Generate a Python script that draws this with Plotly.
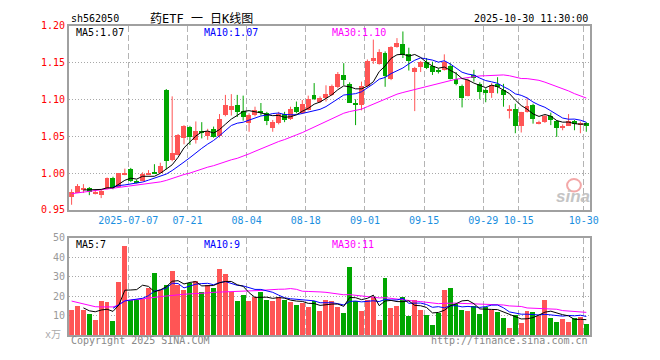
import plotly.graph_objects as go

# ---------------- data ----------------
opens = [0.968, 0.974, 0.977, 0.980, 0.973, 0.971, 0.979, 0.994, 0.982, 0.999,
         1.006, 0.990, 0.990, 0.999, 1.001, 1.001, 1.113, 1.018, 1.025, 1.048,
         1.063, 1.045, 1.057, 1.051, 1.060, 1.051, 1.079, 1.086, 1.093, 1.085,
         1.069, 1.079, 1.084, 1.082, 1.061, 1.069, 1.080, 1.074, 1.090, 1.082,
         1.086, 1.106, 1.097, 1.102, 1.107, 1.117, 1.133, 1.121, 1.095, 1.093,
         1.119, 1.153, 1.149, 1.164, 1.128, 1.172, 1.175, 1.162, 1.138, 1.144,
         1.151, 1.146, 1.141, 1.141, 1.146, 1.128, 1.119, 1.105, 1.133, 1.121,
         1.113, 1.109, 1.121, 1.113, 1.086, 1.087, 1.064, 1.083, 1.093, 1.067,
         1.070, 1.078, 1.071, 1.062, 1.065, 1.071, 1.067, 1.068]
highs = [0.978, 0.985, 0.985, 0.981, 0.977, 0.977, 0.994, 0.995, 1.000, 1.006,
         1.007, 0.991, 1.001, 1.004, 1.012, 1.014, 1.114, 1.104, 1.053, 1.065,
         1.064, 1.070, 1.069, 1.060, 1.063, 1.080, 1.106, 1.107, 1.106, 1.105,
         1.081, 1.090, 1.095, 1.083, 1.072, 1.083, 1.083, 1.090, 1.097, 1.099,
         1.105, 1.122, 1.104, 1.119, 1.120, 1.137, 1.149, 1.123, 1.100, 1.124,
         1.154, 1.181, 1.168, 1.165, 1.172, 1.183, 1.192, 1.170, 1.144, 1.152,
         1.156, 1.151, 1.142, 1.161, 1.149, 1.137, 1.120, 1.128, 1.140, 1.123,
         1.115, 1.122, 1.130, 1.121, 1.092, 1.094, 1.083, 1.102, 1.094, 1.071,
         1.079, 1.082, 1.072, 1.066, 1.080, 1.072, 1.070, 1.069]
lows = [0.957, 0.973, 0.973, 0.970, 0.971, 0.966, 0.978, 0.978, 0.981, 0.997,
        0.988, 0.986, 0.989, 0.998, 0.999, 1.000, 1.005, 1.016, 1.024, 1.039,
        1.038, 1.040, 1.047, 1.045, 1.048, 1.048, 1.077, 1.078, 1.076, 1.071,
        1.056, 1.077, 1.078, 1.065, 1.056, 1.066, 1.069, 1.072, 1.081, 1.080,
        1.085, 1.099, 1.095, 1.097, 1.105, 1.115, 1.119, 1.095, 1.065, 1.085,
        1.117, 1.148, 1.147, 1.117, 1.126, 1.170, 1.156, 1.139, 1.084, 1.137,
        1.141, 1.133, 1.135, 1.139, 1.127, 1.119, 1.089, 1.104, 1.124, 1.100,
        1.096, 1.102, 1.108, 1.090, 1.074, 1.054, 1.055, 1.082, 1.067, 1.066,
        1.068, 1.065, 1.049, 1.058, 1.064, 1.058, 1.054, 1.056]
closes = [0.975, 0.983, 0.980, 0.975, 0.975, 0.976, 0.994, 0.980, 1.000, 1.001,
          0.990, 0.988, 0.999, 1.001, 1.000, 1.010, 1.017, 1.028, 1.052, 1.064,
          1.050, 1.057, 1.056, 1.058, 1.050, 1.074, 1.093, 1.091, 1.083, 1.077,
          1.079, 1.086, 1.083, 1.071, 1.070, 1.081, 1.073, 1.087, 1.084, 1.094,
          1.101, 1.101, 1.102, 1.108, 1.119, 1.135, 1.127, 1.096, 1.094, 1.119,
          1.153, 1.157, 1.165, 1.132, 1.171, 1.177, 1.161, 1.152, 1.143, 1.151,
          1.143, 1.137, 1.137, 1.151, 1.128, 1.122, 1.103, 1.127, 1.130, 1.110,
          1.109, 1.120, 1.117, 1.106, 1.087, 1.065, 1.083, 1.092, 1.074, 1.070,
          1.078, 1.072, 1.062, 1.063, 1.071, 1.067, 1.068, 1.064]
volumes = [13.0, 15.0, 13.0, 11.0, 8.0, 17.5, 17.0, 7.5, 27.5, 46.0,
           18.0, 18.0, 18.8, 24.5, 32.0, 23.0, 26.0, 33.0, 26.0, 23.5,
           27.0, 28.0, 22.0, 26.0, 24.5, 34.0, 31.5, 22.0, 17.5, 20.5,
           17.5, 19.5, 22.0, 18.0, 17.5, 19.5, 18.0, 17.0, 15.5, 16.7,
           14.5, 17.5, 12.2, 18.0, 17.5, 14.7, 11.5, 35.0, 17.5, 12.5,
           18.0, 19.7, 8.0, 29.5, 14.0, 15.0, 19.5, 10.0, 18.0, 13.0,
           10.5, 5.5, 11.3, 23.5, 24.5, 15.8, 13.0, 12.5, 15.0, 11.0,
           14.5, 13.0, 12.0, 9.0, 3.5, 10.5, 6.5, 12.5, 12.0, 10.0,
           18.0, 9.0, 7.0, 8.5, 7.0, 8.7, 9.5, 6.0]

# moving-average values visible before enough bars exist in the window
ma5_head = [None, None, 0.977, 0.977]
ma10_head = [None] * 7 + [0.981, 0.983]
ma30_head = [0.972, 0.973, 0.974, 0.975, 0.976, 0.977, 0.978, 0.979, 0.980, 0.981,
             0.982, 0.983, 0.984, 0.985, 0.986, 0.988, 0.990, 0.993, 0.996, 0.998,
             1.000, 1.003, 1.005, 1.008, 1.010, 1.013, 1.015, 1.018, 1.020]
vma5_head = [None, None, 14.0, 12.5]
vma10_head = [None] * 7 + [13.8, 15.5]
vma30_head = [17.5, 16.8, 16.0, 15.2, 14.6, 14.5, 14.5, 14.5, 15.5, 17.8,
              18.0, 18.2, 18.6, 19.0, 19.5, 19.8, 20.1, 20.5, 20.8, 21.0,
              21.2, 21.3, 21.5, 21.7, 22.0, 22.1, 22.3, 22.4, 22.5]

tick_index = [10, 20, 30, 40, 50, 60, 70, 76, 87]
tick_labels = ["2025-07-07", "07-21", "08-04", "08-18", "09-01",
               "09-15", "09-29", "10-15", "10-30"]
price_ticks = [0.95, 1.00, 1.05, 1.10, 1.15, 1.20]
vol_ticks = [10, 20, 30, 40, 50]
price_ma_text = ["MA5:1.07", "MA10:1.07", "MA30:1.10"]
vol_ma_text = ["MA5:7", "MA10:9", "MA30:11"]

# ---------------- helpers ----------------
def moving(vals, n, head):
    out = list(head)
    for i in range(len(head), len(vals)):
        out.append(sum(vals[i - n + 1:i + 1]) / n)
    return out

N = len(closes)
xs = list(range(N))
RED = "#ff5555"
GREEN = "#00a600"
MONO = "DejaVu Sans Mono, Liberation Mono, monospace"

# the page body keeps its default 8px margin: lay the figure out in screen
# pixels of the 660x360 window, shifted by that margin
M = 8
FW, FH = 660 - 2 * M, 360 - 2 * M

def px(X):
    return (X - M) / FW

def py(Y):
    return 1 - (Y - M) / FH

up = [c >= o for o, c in zip(opens, closes)]
colors = [RED if u else GREEN for u in up]

fig = go.Figure()

# wicks
for flag, col in ((True, RED), (False, GREEN)):
    wx, wy = [], []
    for i in xs:
        if up[i] == flag:
            wx += [i, i, None]
            wy += [lows[i], highs[i], None]
    fig.add_trace(go.Scatter(x=wx, y=wy, mode="lines", line=dict(color=col, width=1),
                             hoverinfo="skip", xaxis="x", yaxis="y"))

# bodies
body_base = [min(o, c) for o, c in zip(opens, closes)]
body_h = [max(abs(c - o), 0.0012) for o, c in zip(opens, closes)]
fig.add_trace(go.Bar(x=xs, y=body_h, base=body_base, width=5 / 6,
                     marker=dict(color=colors, line=dict(width=0)),
                     xaxis="x", yaxis="y"))

ma5 = moving(closes, 5, ma5_head)
ma10 = moving(closes, 10, ma10_head)
ma30 = moving(closes, 30, ma30_head)
for ser, col in ((ma30, "#ff00ff"), (ma10, "#0000ff"), (ma5, "#000000")):
    fig.add_trace(go.Scatter(x=xs, y=ser, mode="lines", line=dict(color=col, width=1),
                             xaxis="x", yaxis="y", hoverinfo="skip"))

# volume
fig.add_trace(go.Bar(x=xs, y=volumes, width=5 / 6,
                     marker=dict(color=colors, line=dict(width=0)),
                     xaxis="x2", yaxis="y2"))
vma5 = moving(volumes, 5, vma5_head)
vma10 = moving(volumes, 10, vma10_head)
vma30 = moving(volumes, 30, vma30_head)
for ser, col in ((vma30, "#ff00ff"), (vma10, "#0000ff"), (vma5, "#000000")):
    fig.add_trace(go.Scatter(x=xs, y=ser, mode="lines", line=dict(color=col, width=1),
                             xaxis="x2", yaxis="y2", hoverinfo="skip"))

off = 2.5 / 6
xrange = [-off, N - off]
grid_x = [i - off for i in tick_index]
x_dom = [px(70), px(598)]

common_x = dict(domain=x_dom, range=xrange, showgrid=True, gridcolor="#b4b4b4",
                griddash="6px,3px", gridwidth=1, showline=True, mirror=True,
                linecolor="#a0a0a0", linewidth=2, zeroline=False, ticks="",
                tickvals=grid_x, fixedrange=True)

fig.update_layout(
    width=FW, height=FH, margin=dict(l=0, r=0, t=0, b=0), autosize=False,
    paper_bgcolor="white", plot_bgcolor="white", showlegend=False, bargap=0,
    xaxis=dict(**common_x, anchor="y", ticktext=tick_labels,
               tickfont=dict(family=MONO, size=10, color="#1a8fe0")),
    xaxis2=dict(**common_x, anchor="y2", showticklabels=False),
    yaxis=dict(domain=[py(211), py(20)], range=[0.95, 1.20], tickvals=price_ticks,
               ticktext=["%.2f" % v for v in price_ticks],
               tickfont=dict(family=MONO, size=10, color="#ff0000"),
               showgrid=True, gridcolor="#a8a8a8", griddash="1px,2px",
               showline=True, mirror=True, linecolor="#a0a0a0", linewidth=2,
               zeroline=False, ticks="", anchor="x", fixedrange=True),
    yaxis2=dict(domain=[py(340.7), py(240)], range=[0, 50], tickvals=vol_ticks,
                ticktext=[str(v) for v in vol_ticks],
                tickfont=dict(family=MONO, size=10, color="#999999"),
                showgrid=True, gridcolor="#a8a8a8", griddash="1px,2px",
                showline=True, mirror=True, linecolor="#a0a0a0", linewidth=2,
                zeroline=False, ticks="", anchor="x2", fixedrange=True),
)

def label(text, x, y, color="#000000", size=10, anchor="left", family=MONO, **kw):
    fig.add_annotation(text=text, x=px(x), y=py(y), xref="paper", yref="paper",
                       xanchor=anchor, yanchor="middle", showarrow=False,
                       font=dict(family=family, size=size, color=color, **kw))

label("sh562050", 70, 13)
label("药ETF 一 日K线图", 150, 13, size=12,
      family="DejaVu Sans Mono, Noto Sans CJK SC")
label("2025-10-30 11:30:00", 598, 13, anchor="right")
label(price_ma_text[0], 75, 27)
label(price_ma_text[1], 205, 27, color="#0000ff")
label(price_ma_text[2], 335, 27, color="#ff00ff")
label(vol_ma_text[0], 75, 247)
label(vol_ma_text[1], 205, 247, color="#0000ff")
label(vol_ma_text[2], 335, 247, color="#ff00ff")
label("x万", 64, 340, color="#aaaaaa", anchor="right",
      family="DejaVu Sans Mono, Noto Sans CJK SC")
label("Copyright 2025 SINA.COM", 70, 346, color="#888888")
label("http://finance.sina.com.cn", 598, 346, color="#888888", anchor="right")

# sina watermark
fig.add_shape(type="circle", xref="paper", yref="paper",
              x0=px(575), x1=px(589), y0=py(192), y1=py(179),
              line=dict(color="#f3a8a8", width=2))
label("sina", 581, 197, color="#c4c4c4", size=17, anchor="center",
      family="Liberation Sans, Arial", style="italic", weight="bold")

fig.write_html("out.html", include_plotlyjs=True,
               config={"displayModeBar": False})
